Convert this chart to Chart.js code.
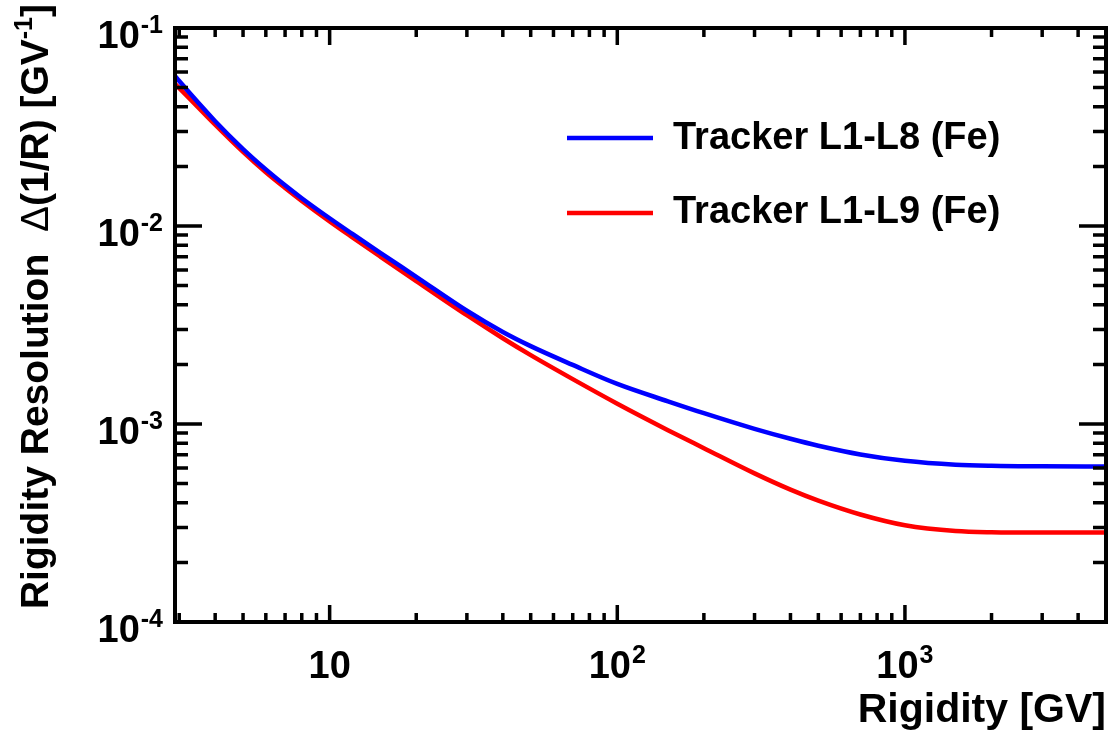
<!DOCTYPE html>
<html>
<head>
<meta charset="utf-8">
<script src="https://cdn.jsdelivr.net/npm/chart.js@4.4.1/dist/chart.umd.min.js"></script>
<style>
  html, body { margin: 0; padding: 0; background: #fff; }
  #wrap { width: 1115px; height: 738px; }
</style>
</head>
<body>
<div id="wrap"><canvas id="resChart" width="1115" height="738"></canvas></div>
<script>
const rigidity = [2.9, 3, 4, 5, 6, 7, 8, 10, 12, 15, 20, 30, 40, 50, 70, 100, 150, 200, 300, 400, 500, 700, 1000, 1500, 2000, 3000, 5000];

// Delta(1/R) [GV^-1]
const resL1L8 = [0.05722, 0.05394, 0.03383, 0.02448, 0.01931, 0.01606, 0.01382, 0.01094, 0.009115, 0.007322, 0.00554, 0.003733, 0.002917, 0.002474, 0.001988, 0.001594, 0.001302, 0.001134, 0.000945, 0.000842, 0.000777, 0.000702, 0.000652, 0.000623, 0.000615, 0.000611, 0.000610];
const resL1L9 = [0.05215, 0.04973, 0.03248, 0.02366, 0.01866, 0.01556, 0.0134, 0.01055, 0.008762, 0.00701, 0.005272, 0.003543, 0.002711, 0.002227, 0.001685, 0.001266, 0.000931, 0.000755, 0.000563, 0.000466, 0.00041, 0.000349, 0.000308, 0.000288, 0.000284, 0.000283, 0.000283];

const seriesNames = ['Tracker L1-L8 (Fe)', 'Tracker L1-L9 (Fe)'];

// axis labels, "base^sup"
const xMajor = [10, 100, 1000];
const xMajorText = ['10', '10^2', '10^3'];
const yMajor = [1e-4, 1e-3, 1e-2, 1e-1];
const yMajorText = ['10^-4', '10^-3', '10^-2', '10^-1'];

const BOLD = '"Liberation Sans", Arial, Helvetica, sans-serif';

const toPoints = (vals) => rigidity.map((r, i) => ({ x: r, y: vals[i] }));

// label with a raised part after '^'
function supText(ctx, text, x, y, align, size, supSize) {
    const [base, sup] = text.split('^');
    ctx.font = 'bold ' + size + 'px ' + BOLD;
    const wb = ctx.measureText(base).width;
    ctx.font = 'bold ' + supSize + 'px ' + BOLD;
    const ws = sup ? ctx.measureText(sup).width + 1 : 0;
    const total = wb + ws;
    let x0 = x;
    if (align === 'center') x0 = x - total / 2;
    if (align === 'right') x0 = x - total;
    ctx.textAlign = 'left';
    ctx.font = 'bold ' + size + 'px ' + BOLD;
    ctx.fillText(base, x0, y);
    if (sup) {
        ctx.font = 'bold ' + supSize + 'px ' + BOLD;
        ctx.fillText(sup, x0 + wb + 1, y - 15);
    }
}

const rootFrame = {
    id: 'rootFrame',
    afterDatasetsDraw(chart) {
        const { ctx, chartArea: a, scales: { x, y } } = chart;
        ctx.save();
        ctx.fillStyle = '#000';
        ctx.strokeStyle = '#000';
        ctx.lineCap = 'butt';

        // ticks, drawn inside the frame on all four sides
        ctx.lineWidth = 3.5;
        const xTick = (v, len) => {
            const px = x.getPixelForValue(v);
            if (px < a.left + 2 || px > a.right - 2) return;
            ctx.beginPath();
            ctx.moveTo(px, a.bottom); ctx.lineTo(px, a.bottom - len);
            ctx.moveTo(px, a.top); ctx.lineTo(px, a.top + len);
            ctx.stroke();
        };
        const yTick = (v, len) => {
            const py = y.getPixelForValue(v);
            if (py < a.top + 2 || py > a.bottom - 2) return;
            ctx.beginPath();
            ctx.moveTo(a.left, py); ctx.lineTo(a.left + len, py);
            ctx.moveTo(a.right, py); ctx.lineTo(a.right - len, py);
            ctx.stroke();
        };
        for (let d = 1; d <= 1000; d *= 10) {
            for (let m = 1; m <= 9; m++) {
                xTick(m * d, m === 1 ? 17 : 9);
            }
        }
        for (let d = 1e-4; d < 0.1; d *= 10) {
            for (let m = 1; m <= 9; m++) {
                yTick(m * d, m === 1 ? 27 : 13);
            }
        }

        // frame
        ctx.lineWidth = 4;
        ctx.strokeRect(a.left, a.top, a.right - a.left, a.bottom - a.top);

        // tick labels
        ctx.textBaseline = 'alphabetic';
        xMajor.forEach((v, i) => supText(ctx, xMajorText[i], x.getPixelForValue(v), 678, 'center', 38, 25));
        yMajor.forEach((v, i) => supText(ctx, yMajorText[i], 163, y.getPixelForValue(v) + 20, 'right', 38, 25));

        // x title
        ctx.font = 'bold 41px ' + BOLD;
        ctx.textAlign = 'right';
        ctx.fillText('Rigidity [GV]', 1106, 722);

        // y title, rotated
        const parts = [
            ['Rigidity Resolution  ', 'bold 39px ' + BOLD, 0],
            ['\u0394', '39px ' + BOLD, 0],
            ['(1/R) [GV', 'bold 39px ' + BOLD, 0],
            ['-1', 'bold 25px ' + BOLD, -16],
            [']', 'bold 39px ' + BOLD, 0]
        ];
        let total = 0;
        parts.forEach(p => { ctx.font = p[1]; p.push(ctx.measureText(p[0]).width); total += p[3]; });
        ctx.save();
        ctx.translate(48, 4 + total);
        ctx.rotate(-Math.PI / 2);
        ctx.textAlign = 'left';
        let tx = 0;
        parts.forEach(p => { ctx.font = p[1]; ctx.fillText(p[0], tx, p[2]); tx += p[3]; });
        ctx.restore();

        // legend
        const legendRows = [[138, 149], [213, 223]];
        chart.data.datasets.forEach((ds, i) => {
            const [ly, ty] = legendRows[i];
            ctx.strokeStyle = ds.borderColor;
            ctx.lineWidth = 4.5;
            ctx.beginPath();
            ctx.moveTo(567, ly); ctx.lineTo(653, ly);
            ctx.stroke();
            ctx.font = 'bold 38px ' + BOLD;
            ctx.textAlign = 'left';
            ctx.fillText(ds.label, 673, ty);
        });
        ctx.restore();
    }
};

new Chart(document.getElementById('resChart'), {
    type: 'line',
    data: {
        datasets: [{
            label: seriesNames[0],
            data: toPoints(resL1L8),
            borderColor: '#0000ff',
            borderWidth: 4.5,
            pointRadius: 0,
            cubicInterpolationMode: 'monotone',
            fill: false
        }, {
            label: seriesNames[1],
            data: toPoints(resL1L9),
            borderColor: '#ff0000',
            borderWidth: 4.5,
            pointRadius: 0,
            cubicInterpolationMode: 'monotone',
            fill: false
        }]
    },
    options: {
        responsive: false,
        animation: false,
        layout: { padding: { top: 28, right: 9, left: 0, bottom: 0 } },
        plugins: {
            legend: { display: false },
            tooltip: { enabled: false },
            title: { display: false }
        },
        scales: {
            x: {
                type: 'logarithmic',
                min: 2.9,
                max: 5000,
                grid: { display: false },
                border: { display: false },
                ticks: { display: false },
                afterFit: (s) => { s.height = 116; }
            },
            y: {
                type: 'logarithmic',
                min: 1e-4,
                max: 0.1,
                grid: { display: false },
                border: { display: false },
                ticks: { display: false },
                afterFit: (s) => { s.width = 175; }
            }
        }
    },
    plugins: [rootFrame]
});
</script>
</body>
</html>
